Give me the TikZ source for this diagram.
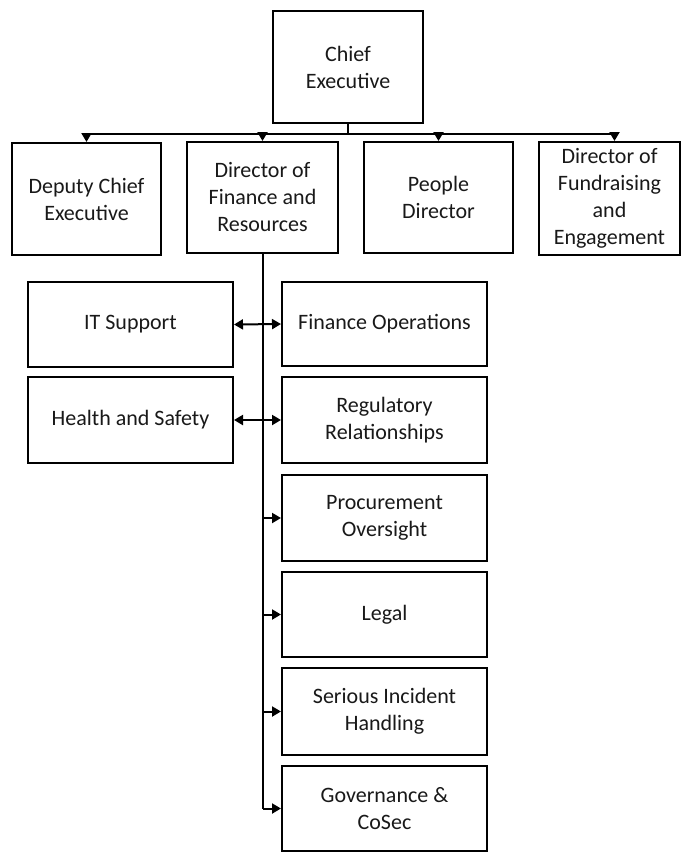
\documentclass[tikz,border=0pt]{standalone}
\usepackage{fontspec}
\setmainfont{Carlito}
\usepackage{tikz}
\usetikzlibrary{arrows.meta}
\tikzstyle{orgbox}=[draw, line width=2pt, fill=white, align=center, inner sep=0pt, text=black!90, font=\fontsize{22}{27}\selectfont]
\tikzstyle{link}=[line width=2pt, -{Triangle[length=9pt,width=10pt]}]
\tikzstyle{twoway}=[line width=2pt, {Triangle[length=9pt,width=10pt]}-{Triangle[length=9pt,width=10pt]}]
\newcommand{\post}[5]{
 \node[orgbox, minimum width=#3pt, minimum height=#4pt] (#1) at #2 {#5};
}

\begin{document}
\begin{tikzpicture}[x=1pt,y=-1pt]
 \useasboundingbox (0,0) rectangle (681,852);
%
 \post{chief}{(348,67)}{150}{112}{Chief\\Executive}
 \post{dep}{(86.5,199)}{149}{112}{Deputy Chief\\Executive}
 \post{fin}{(262.5,197.5)}{151}{111}{Director of\\Finance and\\Resources}
 \post{people}{(438.5,197.5)}{149}{111}{People\\Director}
 \post{fund}{(609.5,198.5)}{141}{113}{Director of\\Fundraising\\and\\Engagement}
%
 \post{it}{(130.5,324.5)}{205}{85}{IT Support}
 \post{hs}{(130.5,420)}{205}{86}{Health and Safety}
%
 \post{finops}{(384.5,324)}{205}{84}{Finance Operations}
 \post{reg}{(384.5,420)}{205}{86}{Regulatory\\Relationships}
 \post{proc}{(384.5,518)}{205}{86}{Procurement\\Oversight}
 \post{legal}{(384.5,614.5)}{205}{85}{Legal}
 \post{sih}{(384.5,711.5)}{205}{87}{Serious Incident\\Handling}
 \post{gov}{(384.5,808.5)}{205}{85}{Governance \&\\CoSec}
%
 \draw[line width=2pt] (chief.south) -- ++(0,10) coordinate (bus);
 \coordinate (fundtop) at ([xshift=5pt]fund.north);
 \draw[line width=2pt] (bus -| dep.north) -- (bus -| fundtop);
 \draw[link] (bus -| dep.north) -- (dep.north);
 \draw[link] (bus -| fin.north) -- (fin.north);
 \draw[link] (bus -| people.north) -- (people.north);
 \draw[link] (bus -| fundtop) -- (fundtop);
%
 \draw[line width=2pt] (fin.south) -- (fin.south |- gov.west);
 \draw[twoway] (it.east) -- (finops.west);
 \draw[twoway] (hs.east) -- (reg.west);
 \draw[link] (fin.south |- proc.west) -- (proc.west);
 \draw[link] (fin.south |- legal.west) -- (legal.west);
 \draw[link] (fin.south |- sih.west) -- (sih.west);
 \draw[link] (fin.south |- gov.west) -- (gov.west);
\end{tikzpicture}
\end{document}
